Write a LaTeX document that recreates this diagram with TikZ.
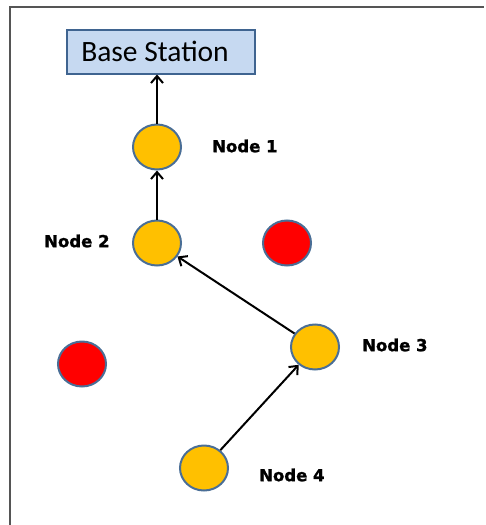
\documentclass[tikz,border=0pt]{standalone}
\usepackage{fontspec}
\setmainfont{Carlito}
\newfontfamily\labelfont[BoldFeatures={FakeBold=1.5}]{DejaVu Sans}
\usetikzlibrary{arrows.meta,shapes.geometric}
\definecolor{gold}{HTML}{FFC000}
\definecolor{rim}{HTML}{4A6E96}
\definecolor{boxfill}{HTML}{C6D9F1}
\definecolor{boxrim}{HTML}{3F6490}
\definecolor{framegrey}{HTML}{555555}
\tikzset{
  x=1pt, y=-1pt,
  sensor/.style={ellipse, minimum width=48pt, minimum height=45pt, draw=rim, line width=2pt, fill=gold, inner sep=0pt},
  idle/.style={sensor, fill=red},
  tag/.style={font=\labelfont\bfseries\fontsize{16.5}{18}\selectfont, inner sep=0pt, anchor=west},
  hop/.style={-{Straight Barb[length=7pt,width=12pt,line width=2pt]}, line width=2pt, black},
}
\begin{document}
\begin{tikzpicture}
\useasboundingbox (0,0) rectangle (486,525);
% open frame along the top and left
\draw[framegrey, line width=2.2pt] (10,525) -- (10,7) -- (484,7);

\node[draw=boxrim, line width=2pt, fill=boxfill, minimum width=188pt, minimum height=44pt, inner sep=0pt,
      font=\fontsize{29.5}{31}\selectfont] (bs) at (161,51.5) {\hspace*{-12pt}Base Station};

\node[sensor] (n1) at (157,147) {};
\node[sensor] (n2) at (157,243) {};
\node[sensor] (n3) at (315,347) {};
\node[sensor] (n4) at (204,468) {};
\node[idle] (r1) at (287,243) {};
\node[idle] (r2) at (82,364) {};

\node[tag] (l1) at (212,146) {Node 1};
\node[tag] (l2) at (44,241) {Node 2};
\node[tag] (l3) at (362,345) {Node 3};
\node[tag] (l4) at (259,475) {Node 4};

\draw[hop] (n1.north) -- (bs.south -| n1.north);
\draw[hop] (n2.north) -- (n1.south);
\draw[hop] (n3) -- (n2);
\draw[hop] (n4) -- (n3);
\end{tikzpicture}
\end{document}
